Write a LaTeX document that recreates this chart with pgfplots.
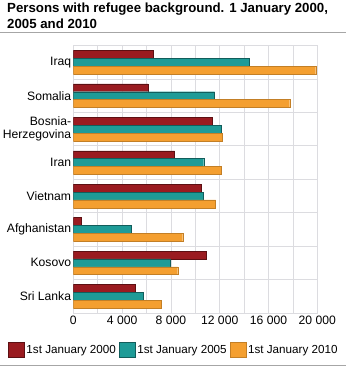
\documentclass[border=0pt]{standalone}
\usepackage{pgfplots}
\pgfplotsset{compat=1.18}
\usepackage{fontspec}
\setmainfont{Liberation Sans}
\definecolor{c2000}{HTML}{9A1B20}
\definecolor{c2005}{HTML}{1E9B97}
\definecolor{c2010}{HTML}{F49F30}
\definecolor{gridc}{HTML}{DCDCE0}
\begin{document}
\begin{tikzpicture}[x=1bp,y=1bp]
\path[use as bounding box] (0,0) rectangle (346,367);
\node[anchor=north west, inner sep=0, align=left, font=\fontsize{13.3}{16}\selectfont\bfseries] at (7,364) {Persons with refugee background. 1 January 2000,\\2005 and 2010};
\draw[gray!70, line width=1bp] (0,334) -- (346,334);
\draw[gray!70, line width=1bp] (0,2) -- (346,2);
\begin{axis}[
  scale only axis,
  width=244bp, height=267.5bp,
  at={(73.3bp,54bp)}, anchor=south west,
  xmin=0, xmax=20000,
  ymin=-0.5, ymax=7.5,
  y dir=reverse,
  xbar, bar width=0.235,
  scaled x ticks=false,
  xtick={0,4000,8000,12000,16000,20000},
  xticklabels={0,4 000,8 000,12 000,16 000,20 000},
  minor xtick={2000,6000,10000,14000,18000},
  ytick={0,1,2,3,4,5,6,7},
  yticklabels={Iraq,Somalia,{Bosnia-\\Herzegovina},Iran,Vietnam,Afghanistan,Kosovo,Sri Lanka},
  minor ytick={0.5,1.5,2.5,3.5,4.5,5.5,6.5},
  xmajorgrids, xminorgrids, yminorgrids,
  grid style={gridc, line width=0.8bp},
  minor grid style={gridc, line width=0.8bp},
  axis line style={gridc, line width=0.8bp},
  major tick length=0, minor tick length=0,
  tick label style={font=\fontsize{12.2}{12.8}\selectfont},
  yticklabel style={align=right, inner xsep=2bp},
  xticklabel style={inner ysep=3bp},
  legend style={at={(axis description cs:-0.268,-0.138)}, anchor=west, draw=none, fill=none,
    inner sep=0pt, font=\fontsize{11.7}{12.5}\selectfont,
    /tikz/every even column/.append style={column sep=1bp}},
  legend columns=3,
  legend cell align=left,
  legend image code/.code={\draw[#1] (0bp,-7.5bp) rectangle (16bp,7.5bp);},
]
\addplot[fill=c2000, draw=c2000!60!black, bar shift=-0.235] coordinates {
(6550,0) (6120,1) (11420,2) (8310,3) (10470,4) (630,5) (10930,6) (5110,7)};
\addplot[fill=c2005, draw=c2005!60!black, bar shift=0] coordinates {
(14400,0) (11590,1) (12160,2) (10690,3) (10630,4) (4730,5) (7980,6) (5770,7)};
\addplot[fill=c2010, draw=c2010!80!black, bar shift=0.235] coordinates {
(19870,0) (17740,1) (12240,2) (12130,3) (11670,4) (8970,5) (8560,6) (7210,7)};
\legend{1st January 2000,1st January 2005,1st January 2010}
\end{axis}
\end{tikzpicture}
\end{document}
